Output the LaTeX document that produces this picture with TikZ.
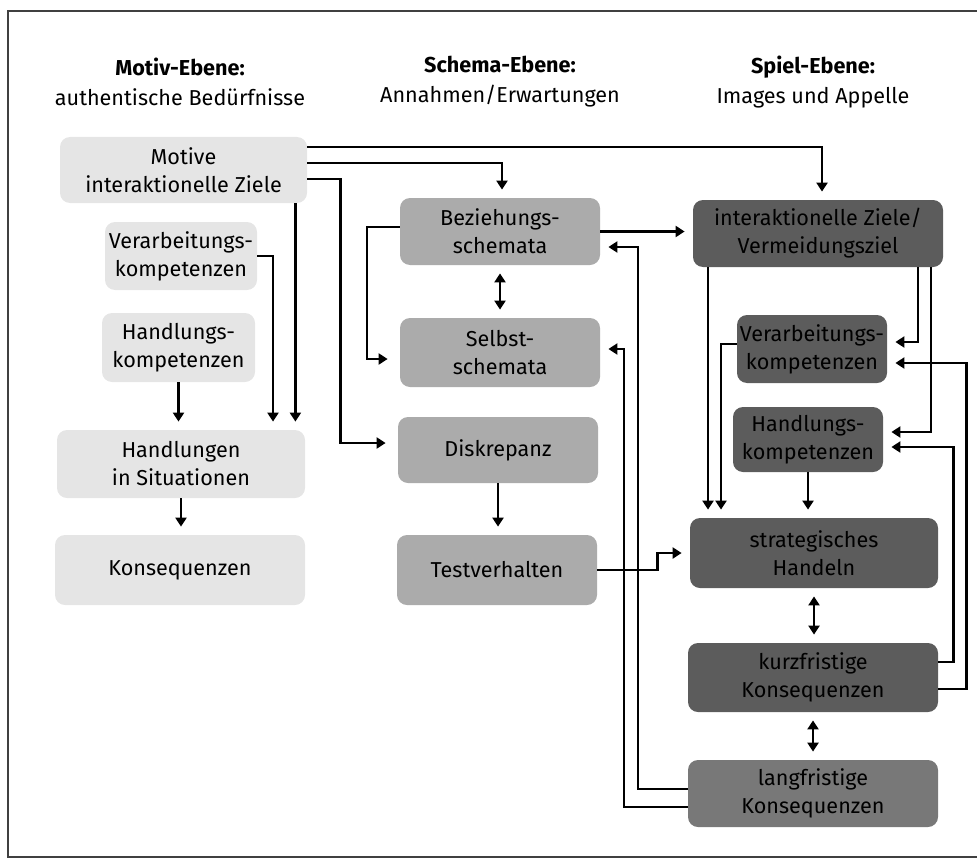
\documentclass[tikz,border=0pt]{standalone}
\usepackage{fontspec}
\setmainfont{Fira Sans}
\usetikzlibrary{arrows.meta,calc}

\begin{document}
\begin{tikzpicture}[x=0.5pt,y=-0.5pt,
  box/.style={rounded corners=5pt, align=center, inner sep=1pt, font=\fontsize{10.8}{14}\selectfont},
  lightbox/.style={box, fill=black!10},
  midbox/.style={box, fill=black!33},
  darkbox/.style={box, fill=black!64},
  head/.style={align=center, font=\fontsize{10.8}{15}\selectfont},
  conn/.style={line width=1.1pt, -{Triangle[length=4.5pt,width=5.5pt]}, shorten >=4pt},
  twoway/.style={conn, {Triangle[length=4.5pt,width=5.5pt]}-{Triangle[length=4.5pt,width=5.5pt]}, shorten <=4pt}]
\useasboundingbox (0,0) rectangle (977,861);
\draw[black!75, line width=1pt] (977,11) -- (8,11) -- (8,857) -- (977,857);

\node[head] (hMotiv) at (180,82) {\textbf{Motiv-Ebene:}\\authentische Bedürfnisse};
\node[head] (hSchema) at (500,82) {\textbf{Schema-Ebene:}\\Annahmen/Erwartungen};
\node[head] (hSpiel) at (813,82) {\textbf{Spiel-Ebene:}\\Images und Appelle};

% Motiv-Ebene
\node[lightbox, minimum width=123.5pt, minimum height=33pt] (motive) at (183.5,170) {Motive\\interaktionelle Ziele};
\node[lightbox, minimum width=76pt, minimum height=34pt] (verarbL) at (181,256) {Verarbeitungs-\\kompetenzen};
\node[lightbox, minimum width=76.5pt, minimum height=34.5pt] (handlL) at (178.5,347.5) {Handlungs-\\kompetenzen};
\node[lightbox, minimum width=124pt, minimum height=34pt] (handlungen) at (181,464) {Handlungen\\in Situationen};
\node[lightbox, minimum width=125pt, minimum height=35pt] (konsL) at (180,570) {Konsequenzen};

% Schema-Ebene
\node[midbox, minimum width=100pt, minimum height=33.5pt] (bez) at (500,231.5) {Beziehungs-\\schemata};
\node[midbox, minimum width=100pt, minimum height=34.5pt] (selbst) at (500,352.5) {Selbst-\\schemata};
\node[midbox, minimum width=100pt, minimum height=33pt] (diskr) at (498,450) {Diskrepanz};
\node[midbox, minimum width=100pt, minimum height=35pt] (test) at (497,570) {Testverhalten};

% Spiel-Ebene
\node[darkbox, minimum width=125pt, minimum height=33.5pt] (izv) at (818,233.5) {interaktionelle Ziele/\\Vermeidungsziel};
\node[darkbox, minimum width=75pt, minimum height=34pt] (verarbR) at (812,349) {Verarbeitungs-\\kompetenzen};
\node[darkbox, minimum width=75pt, minimum height=32.5pt] (handlR) at (808,439.5) {Handlungs-\\kompetenzen};
\node[darkbox, minimum width=124pt, minimum height=35pt] (strat) at (814,553) {strategisches\\Handeln};
\node[darkbox, minimum width=125pt, minimum height=34.5pt] (kurz) at (813,677.5) {kurzfristige\\Konsequenzen};
\node[box, fill=black!53, minimum width=125pt, minimum height=33.5pt] (lang) at (813,793.5) {langfristige\\Konsequenzen};

\coordinate (m1) at ($(motive.south east)+(-12,0)$);
\coordinate (z1) at ($(izv.south)+(-110,0)$);
\coordinate (z2) at ($(izv.south)+(100,0)$);
\coordinate (z3) at ($(izv.south)+(113,0)$);

\draw[conn] ([yshift=11.5pt]motive.east) -| ([xshift=2pt]izv.north);
\draw[conn] ([yshift=3.5pt]motive.east) -| ([xshift=1pt]bez.north);
\draw[conn, shorten >=6pt] ([yshift=-4.5pt]motive.east) -- ++(33,0) |- ([yshift=3.5pt]diskr.west);
\draw[conn] (m1) -- (m1 |- handlungen.north);
\draw[conn] (verarbL.east) -| ($(handlungen.north)+(92,0)$);
\draw[conn] (handlL.south) -- (handlL.south |- handlungen.north);
\draw[conn] (handlungen.south) -- (handlungen.south |- konsL.north);

\draw[twoway] (bez.south) -- (selbst.north);
\draw[conn, shorten >=6pt] ([yshift=2.25pt]bez.west) -- ++(-33,0) |- ([yshift=-3.25pt]selbst.west);
\draw[conn] (diskr.south) -- (diskr.south |- test.north);
\draw[conn] (bez.east) -- (bez.east -| izv.west);
\draw[conn] (test.east) -- ++(60,0) |- (strat.west);
\draw[conn] ([yshift=2.25pt]lang.west) -- ++(-50,0) |- ([yshift=-7.75pt]bez.east);
\draw[conn] ([yshift=-6.75pt]lang.west) -- ++(-64,0) |- ([yshift=1.75pt]selbst.east);

\draw[conn] (z1) -- (z1 |- strat.north);
\draw[conn] ([yshift=2.5pt]verarbR.west) -| ($(strat.north)+(-93,0)$);
\draw[conn] (z2) |- ([yshift=3.5pt]verarbR.east);
\draw[conn] (z3) |- ([yshift=3.75pt]handlR.east);
\draw[conn] (handlR.south) -- (handlR.south |- strat.north);
\draw[twoway] (strat.south) -- (strat.south |- kurz.north);
\draw[twoway] (kurz.south) -- (lang.north);
\draw[conn] ([yshift=7.75pt]kurz.east) -- ++(15,0) |- ([yshift=-3.75pt]handlR.east);
\draw[conn] ([yshift=-5.75pt]kurz.east) -- ++(28,0) |- ([yshift=-7pt]verarbR.east);
\end{tikzpicture}
\end{document}
